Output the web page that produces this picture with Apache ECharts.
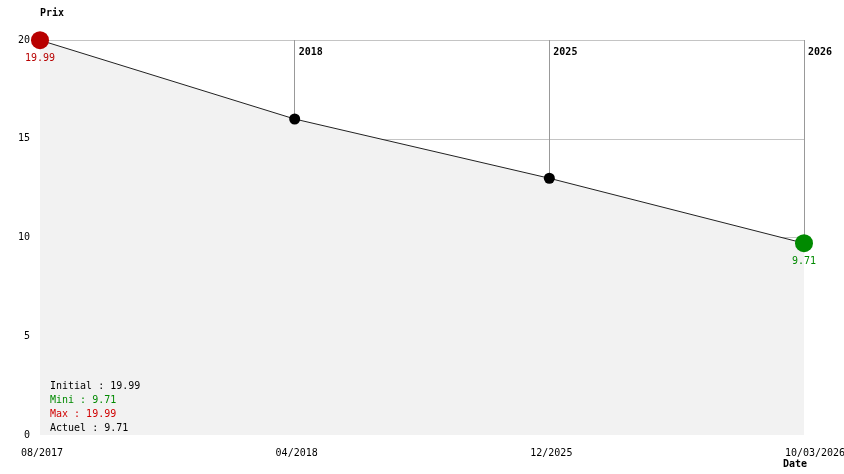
<!DOCTYPE html>
<html>
<head>
<meta charset="utf-8">
<script src="https://cdn.jsdelivr.net/npm/echarts@6/dist/echarts.min.js"></script>
<style>html,body{margin:0;padding:0;background:#fff}#c{width:844px;height:474px}</style>
</head>
<body>
<div id="c"></div>
<script>
var dates = ['08/2017', '04/2018', '12/2025', '10/03/2026'];
var years = ['', '2018', '2025', '2026'];
var prices = [19.99, 16, 13, 9.71];
var yTicks = [0, 5, 10, 15, 20];

var FONT = 'DejaVu Sans Mono';
var RED = '#b80000', GREEN = '#008a00';
var minV = Math.min.apply(null, prices), maxV = Math.max.apply(null, prices);
var first = prices[0], last = prices[prices.length - 1];
var yMax = yTicks[yTicks.length - 1];

var seriesData = prices.map(function (v, i) {
  if (i === 0) return { value: v, symbolSize: 18, itemStyle: { color: RED },
    label: { show: true, position: 'bottom', distance: 4, color: RED, formatter: v.toFixed(2) } };
  if (i === prices.length - 1) return { value: v, symbolSize: 18, itemStyle: { color: GREEN },
    label: { show: true, position: 'bottom', distance: 4, color: GREEN, formatter: v.toFixed(2) } };
  return { value: v, symbolSize: 11, itemStyle: { color: '#000' } };
});

var vLines = [];
for (var i = 1; i < prices.length; i++) {
  vLines.push([{ coord: [i, yMax] }, { coord: [i, prices[i]] }]);
}

var splitColors = yTicks.map(function (t, i) { return i === 0 ? 'rgba(0,0,0,0)' : '#c4c4c4'; });

var chart = echarts.init(document.getElementById('c'));
chart.setOption({
  animation: false,
  textStyle: { fontFamily: FONT, fontSize: 10 },
  grid: { left: 40, right: 40, top: 40, bottom: 39, containLabel: false, outerBoundsMode: 'none' },
  xAxis: [{
    type: 'category', data: dates, boundaryGap: false,
    axisLine: { show: false }, axisTick: { show: false },
    axisLabel: { color: '#000', fontFamily: FONT, fontSize: 10, margin: 13, interval: 0,
      formatter: function (v, i) { return i === dates.length - 1 ? '{l|' + v + '}' : '{n|' + v + '}'; },
      rich: { l: { padding: [0, 0, 0, 22], fontFamily: FONT, fontSize: 10, color: '#000' },
              n: { padding: [0, 0, 0, 4], fontFamily: FONT, fontSize: 10, color: '#000' } } },
    splitLine: { show: false }
  }, {
    type: 'category', data: years, boundaryGap: false, position: 'top',
    axisLine: { show: false }, axisTick: { show: false },
    axisLabel: { inside: true, interval: 0, align: 'left', verticalAlign: 'top', margin: 7, padding: [0, 0, 0, 4],
      color: '#000', fontFamily: FONT, fontSize: 10, fontWeight: 'bold', showMaxLabel: true, showMinLabel: true },
    splitLine: { show: false }
  }],
  yAxis: {
    type: 'value', min: yTicks[0], max: yMax, interval: 5,
    axisLine: { show: false }, axisTick: { show: false },
    axisLabel: { color: '#000', fontFamily: FONT, fontSize: 10, margin: 10 },
    splitLine: { show: true, lineStyle: { color: splitColors, width: 1 } }
  },
  series: [{
    type: 'line', data: seriesData, symbol: 'circle', z: 3,
    lineStyle: { color: '#222', width: 1 },
    areaStyle: { color: '#f2f2f2', opacity: 1 },
    label: { fontFamily: FONT, fontSize: 10 },
    markLine: {
      z: 1, silent: true, symbol: 'none', animation: false,
      label: { show: false },
      lineStyle: { color: '#999', width: 1, type: 'solid' },
      emphasis: { disabled: true },
      data: vLines
    }
  }],
  graphic: [
    { type: 'text', z: 100, left: 40, top: 8, style: { text: 'Prix', fontFamily: FONT, fontSize: 10, fontWeight: 'bold', fill: '#000' } },
    { type: 'text', z: 100, left: 783, top: 459, style: { text: 'Date', fontFamily: FONT, fontSize: 10, fontWeight: 'bold', fill: '#000' } },
    { type: 'text', z: 100, left: 50, top: 381, style: { text: 'Initial : ' + first.toFixed(2), fontFamily: FONT, fontSize: 10, fill: '#000' } },
    { type: 'text', z: 100, left: 50, top: 395, style: { text: 'Mini : ' + minV.toFixed(2), fontFamily: FONT, fontSize: 10, fill: GREEN } },
    { type: 'text', z: 100, left: 50, top: 409, style: { text: 'Max : ' + maxV.toFixed(2), fontFamily: FONT, fontSize: 10, fill: '#d00000' } },
    { type: 'text', z: 100, left: 50, top: 423, style: { text: 'Actuel : ' + last.toFixed(2), fontFamily: FONT, fontSize: 10, fill: '#000' } }
  ]
});
</script>
</body>
</html>
